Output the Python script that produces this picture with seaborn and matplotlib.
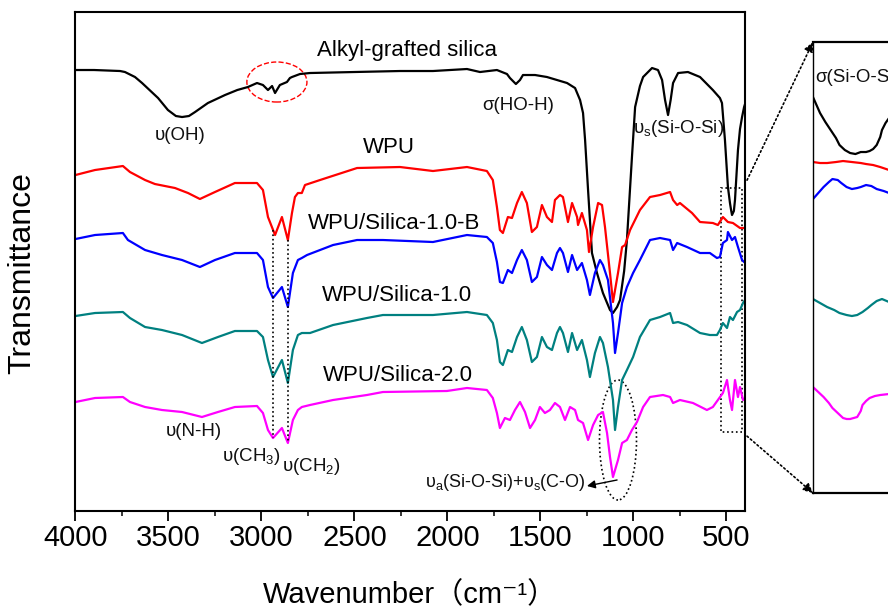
import numpy as np
import pandas as pd
import matplotlib
matplotlib.use("Agg")
import matplotlib.pyplot as plt
import seaborn as sns
from matplotlib.patches import Ellipse, Rectangle, ConnectionPatch
from matplotlib.ticker import MultipleLocator

sns.set_theme(style="ticks")
plt.rcParams["font.family"] = ["Liberation Sans", "Noto Sans CJK SC", "DejaVu Sans"]
plt.rcParams["mathtext.fontset"] = "custom"
plt.rcParams["mathtext.rm"] = "Liberation Sans"
plt.rcParams["mathtext.it"] = "Liberation Sans:italic"
plt.rcParams["mathtext.bf"] = "Liberation Sans:bold"

# ---------------- data (wavenumber in cm-1, transmittance in arbitrary offset units) -------------
samples = ["Alkyl-grafted silica", "WPU", "WPU/Silica-1.0-B", "WPU/Silica-1.0", "WPU/Silica-2.0"]
colors = ["#000000", "#ff0000", "#0000ff", "#008080", "#ff00ff"]

silica_wn = [4000, 3900, 3760, 3734, 3680, 3642, 3556, 3503, 3460, 3427, 3390, 3357, 3288, 3196, 3130,
             3073, 3024, 2992, 2965, 2943, 2927, 2901, 2863, 2847, 2836, 2793, 2739, 2500, 2255, 2078,
             1895, 1825, 1734, 1680, 1664, 1632, 1610, 1594, 1529, 1465, 1357, 1314, 1287, 1271, 1260,
             1244, 1223, 1196, 1164, 1126, 1110, 1088, 1072, 1050, 1035, 1008, 991, 965, 948, 900,
             868, 846, 830, 814, 800, 787, 760, 707, 642, 573, 535, 524, 508, 492, 481,
             475, 470, 460, 454, 438, 427, 416, 405, 400]
silica_t = [441, 441, 440, 439, 434, 428, 413, 401, 395, 394, 395, 399, 408, 416, 421,
            424, 428, 426, 421, 425, 418, 426, 429, 433, 434, 437, 438, 439, 440, 440,
            442, 439, 441, 437, 433, 427, 431, 436, 436, 434, 428, 423, 411, 398, 371,
            321, 258, 238, 218, 201, 198, 204, 211, 240, 271, 354, 404, 425, 434, 443,
            441, 431, 411, 396, 411, 428, 438, 439, 434, 421, 413, 408, 371, 324, 308,
            301, 296, 300, 311, 361, 382, 394, 404, 407]

wpu_wn = [4000, 3895, 3745, 3707, 3626, 3573, 3465, 3395, 3331, 3250, 3143, 3024, 2992, 2965, 2927,
          2890, 2858, 2836, 2820, 2804, 2783, 2766, 2685, 2486, 2255, 2078, 1895, 1788, 1756, 1734,
          1718, 1702, 1675, 1653, 1626, 1600, 1573, 1546, 1519, 1492, 1465, 1438, 1422, 1395, 1379,
          1352, 1330, 1303, 1298, 1277, 1250, 1239, 1217, 1190, 1169, 1153, 1126, 1110, 1083, 1061,
          1045, 1018, 965, 911, 857, 803, 787, 765, 750, 685, 642, 573, 546, 519, 492,
          465, 427, 400]
wpu_t = [336, 341, 345, 339, 331, 327, 323, 318, 312, 319, 328, 328, 321, 294, 276,
         294, 271, 298, 314, 318, 318, 326, 331, 343, 344, 340, 344, 340, 331, 304,
         281, 278, 294, 293, 308, 319, 308, 279, 284, 306, 294, 289, 311, 316, 314,
         289, 308, 294, 286, 298, 281, 259, 284, 308, 306, 284, 238, 209, 238, 264,
         266, 281, 301, 314, 316, 319, 311, 306, 308, 298, 289, 288, 286, 294, 289,
         288, 283, 283]

b_wn = [4000, 3895, 3745, 3718, 3626, 3535, 3427, 3331, 3250, 3143, 3024, 2992, 2965, 2938, 2890,
        2858, 2831, 2804, 2783, 2755, 2685, 2615, 2486, 2347, 2078, 1895, 1788, 1756, 1734, 1718,
        1702, 1675, 1653, 1626, 1600, 1573, 1546, 1519, 1492, 1465, 1438, 1411, 1395, 1379, 1352,
        1330, 1303, 1277, 1250, 1234, 1207, 1180, 1164, 1137, 1110, 1099, 1083, 1061, 1035, 1002,
        965, 911, 857, 803, 787, 765, 712, 642, 589, 551, 535, 519, 497, 492, 470,
        454, 438, 416, 405, 400]
b_t = [272, 276, 278, 271, 261, 256, 251, 244, 251, 258, 258, 251, 224, 213, 224,
       204, 238, 251, 253, 256, 261, 266, 271, 271, 269, 276, 274, 268, 249, 229,
       228, 241, 238, 251, 261, 251, 229, 234, 254, 246, 241, 258, 263, 258, 239,
       256, 241, 248, 231, 216, 238, 251, 246, 231, 188, 158, 178, 208, 224, 238,
       251, 271, 273, 271, 261, 268, 264, 258, 258, 253, 254, 268, 271, 279, 271,
       274, 264, 251, 249, 249]

s10_wn = [4000, 3895, 3745, 3707, 3626, 3535, 3427, 3320, 3234, 3143, 3024, 2992, 2965, 2938, 2890,
          2858, 2831, 2804, 2783, 2739, 2615, 2433, 2347, 2078, 1895, 1788, 1756, 1734, 1718, 1702,
          1675, 1653, 1626, 1600, 1573, 1546, 1519, 1492, 1465, 1438, 1411, 1395, 1379, 1352, 1330,
          1303, 1277, 1250, 1234, 1207, 1180, 1164, 1137, 1110, 1099, 1083, 1061, 1035, 1002, 965,
          911, 857, 803, 787, 760, 712, 642, 589, 551, 535, 519, 497, 481, 465, 443,
          427, 411, 400]
s10_t = [195, 198, 199, 193, 184, 181, 176, 168, 174, 180, 180, 174, 151, 134, 151,
         128, 161, 176, 178, 178, 186, 193, 196, 196, 199, 196, 188, 171, 149, 146,
         161, 159, 174, 184, 171, 149, 154, 174, 164, 161, 178, 184, 178, 159, 178,
         161, 171, 151, 134, 158, 174, 168, 144, 111, 81, 104, 131, 141, 154, 174,
         191, 194, 198, 188, 189, 186, 178, 176, 176, 181, 188, 183, 194, 191, 199,
         201, 208, 211]

s20_wn = [4000, 3895, 3745, 3707, 3626, 3535, 3427, 3320, 3234, 3143, 3024, 2992, 2965, 2938, 2890,
          2858, 2831, 2804, 2783, 2739, 2615, 2433, 2347, 2003, 1895, 1788, 1756, 1734, 1718, 1691,
          1664, 1637, 1610, 1583, 1556, 1529, 1503, 1476, 1449, 1422, 1395, 1368, 1341, 1314, 1298,
          1271, 1244, 1217, 1190, 1164, 1142, 1126, 1110, 1083, 1061, 1035, 1008, 981, 948, 911,
          841, 803, 787, 750, 680, 605, 573, 546, 519, 497, 481, 470, 454, 438, 427,
          411, 400]
s20_t = [109, 113, 114, 109, 104, 101, 99, 94, 99, 104, 105, 98, 81, 73, 83,
         68, 91, 101, 104, 106, 111, 116, 119, 120, 123, 121, 113, 98, 83, 93,
         91, 101, 109, 99, 83, 91, 104, 98, 101, 108, 104, 91, 104, 101, 91,
         88, 71, 86, 96, 99, 78, 54, 34, 51, 68, 71, 81, 89, 104, 114,
         116, 114, 108, 111, 108, 101, 104, 111, 118, 131, 111, 101, 131, 114, 124,
         111, 113]

# inset (magnified 540-427 cm-1 window)
ins_silica_wn = [540, 538, 536, 533, 530, 527, 525, 522, 519, 516, 513, 510, 508, 506, 504, 502, 501, 499, 497, 492]
ins_silica_t = [414, 406, 398, 389, 381, 373, 366, 361, 358, 357, 359, 359, 360, 362, 366, 374, 381, 388, 393, 403]
ins_wpu_wn = [540, 536, 532, 527, 523, 518, 513, 510, 506, 502, 497, 492]
ins_wpu_t = [349, 348, 348, 349, 350, 349, 348, 347, 346, 344, 341, 339]
ins_b_wn = [540, 537, 534, 531, 529, 526, 524, 521, 518, 515, 513, 510, 507, 504, 500, 497, 492]
ins_b_t = [312, 318, 324, 329, 332, 331, 328, 324, 322, 323, 324, 326, 325, 322, 320, 318, 316]
ins_s10_wn = [540, 536, 532, 528, 525, 521, 518, 515, 512, 509, 507, 504, 501, 497, 492]
ins_s10_t = [212, 208, 204, 201, 198, 196, 195, 196, 199, 203, 206, 210, 212, 209, 207]
ins_s20_wn = [540, 537, 534, 531, 529, 526, 523, 521, 519, 517, 515, 513, 512, 510, 508, 505, 502, 497, 492]
ins_s20_t = [124, 119, 114, 108, 103, 98, 93, 92, 92, 93, 94, 100, 106, 110, 113, 115, 116, 117, 118]

xticks = [4000, 3500, 3000, 2500, 2000, 1500, 1000, 500]
ch_peaks = [2938, 2858]

# ---------------- build frames ----------------
def frame(series):
    parts = []
    for name, wn, t in series:
        parts.append(pd.DataFrame({"wn": wn, "t": t, "sample": name}))
    return pd.concat(parts, ignore_index=True)

main_df = frame(zip(samples, [silica_wn, wpu_wn, b_wn, s10_wn, s20_wn],
                    [silica_t, wpu_t, b_t, s10_t, s20_t]))
ins_df = frame(zip(samples, [ins_silica_wn, ins_wpu_wn, ins_b_wn, ins_s10_wn, ins_s20_wn],
                   [ins_silica_t, ins_wpu_t, ins_b_t, ins_s10_t, ins_s20_t]))
palette = dict(zip(samples, colors))

fig = plt.figure(figsize=(8.88, 6.10), dpi=100)
ax = fig.add_axes([0.0850, 0.1623, 0.7540, 0.8180])
sns.lineplot(data=main_df, x="wn", y="t", hue="sample", palette=palette, estimator=None,
             sort=True, legend=False, lw=1.6, ax=ax)
ax.set_xlim(4000, 400)
ax.set_ylim(0, 499)
ax.set_xticks(xticks)
ax.xaxis.set_minor_locator(MultipleLocator(250))
ax.set_yticks([])
ax.tick_params(axis="x", which="major", direction="out", length=7, width=1.3,
               labelsize=21, pad=2.5, colors="black")
ax.tick_params(axis="x", which="minor", direction="out", length=3.5, width=1.3)
for s in ax.spines.values():
    s.set_linewidth(1.5)
    s.set_color("black")

ax.set_xlabel("Wavenumber（cm⁻¹）", fontsize=21, color="black")
ax.xaxis.set_label_coords(0.5, -0.140)
ax.set_ylabel("Transmittance", fontsize=23, color="black")
ax.yaxis.set_label_coords(-0.0795, 0.477)
ax.yaxis.label.set_va("center")

# sample labels
lab_pos = [(2218, 461), (2314, 364), (2287, 288), (2271, 216), (2266, 136)]
for name, (x, y) in zip(samples, lab_pos):
    ax.text(x, y, name, fontsize=16, ha="center", va="center", color="black")

# band annotations
ann = [
    ("υ(OH)", 3438, 376),
    ("σ(HO-H)", 1621, 406),
    ("υ${}_\\mathrm{s}$(Si-O-Si)", 755, 383),
    ("υ(N-H)", 3363, 80),
    ("υ(CH${}_\\mathrm{3}$)", 3056, 54),
    ("υ(CH${}_\\mathrm{2}$)", 2734, 44),
]
for txt, x, y in ann:
    ax.text(x, y, txt, fontsize=13.5, ha="center", va="center", color="#111111")
ax.text(1256, 28, "υ${}_\\mathrm{a}$(Si-O-Si)+υ${}_\\mathrm{s}$(C-O)", fontsize=13,
        ha="right", va="center", color="#111111")
ax.annotate("", xy=(1250, 25), xytext=(1088, 31),
            arrowprops=dict(arrowstyle="-|>", color="black", lw=1.0, mutation_scale=12,
                            shrinkA=0, shrinkB=0))

# guides
red_rev = (np.array(wpu_wn[::-1]), np.array(wpu_t[::-1]))
mag_rev = (np.array(s20_wn[::-1]), np.array(s20_t[::-1]))
for wn in ch_peaks:
    y1 = np.interp(wn, *red_rev)
    y2 = np.interp(wn, *mag_rev)
    ax.plot([wn, wn], [y1, y2], ls=":", color="black", lw=1.2)
ax.add_patch(Ellipse((2917, 429), 323, 40, fill=False, ec="red", ls="--", lw=1.0))
ax.add_patch(Ellipse((1083, 71), 199, 120, fill=False, ec="black", ls=":", lw=1.2))
ax.add_patch(Rectangle((417, 79), 110, 244, fill=False, ec="black", ls=":", lw=1.2))

# inset
axin = fig.add_axes([0.9155, 0.1918, 0.2252, 0.7393])
sns.lineplot(data=ins_df, x="wn", y="t", hue="sample", palette=palette, estimator=None,
             sort=True, legend=False, lw=1.6, ax=axin)
axin.set_xlim(540, 427)
axin.set_ylim(18, 469)
axin.set_xticks([])
axin.set_yticks([])
axin.set_xlabel("")
axin.set_ylabel("")
for k, s in axin.spines.items():
    s.set_color("black")
    s.set_linewidth(1.0 if k == "left" else 1.6)
axin.text(0.01, 0.922, "σ(Si-O-Si)", transform=axin.transAxes, fontsize=13.5,
          ha="left", va="center", color="#111111")

for ya, yb in [(0.663, 1.0), (0.150, 0.0)]:
    con = ConnectionPatch(xyA=(1.003, ya), coordsA=ax.transAxes, xyB=(0.0, yb),
                          coordsB=axin.transAxes, arrowstyle="-|>", linestyle=":",
                          lw=1.2, color="black", mutation_scale=14)
    fig.add_artist(con)

fig.savefig("out.png", dpi=100)
